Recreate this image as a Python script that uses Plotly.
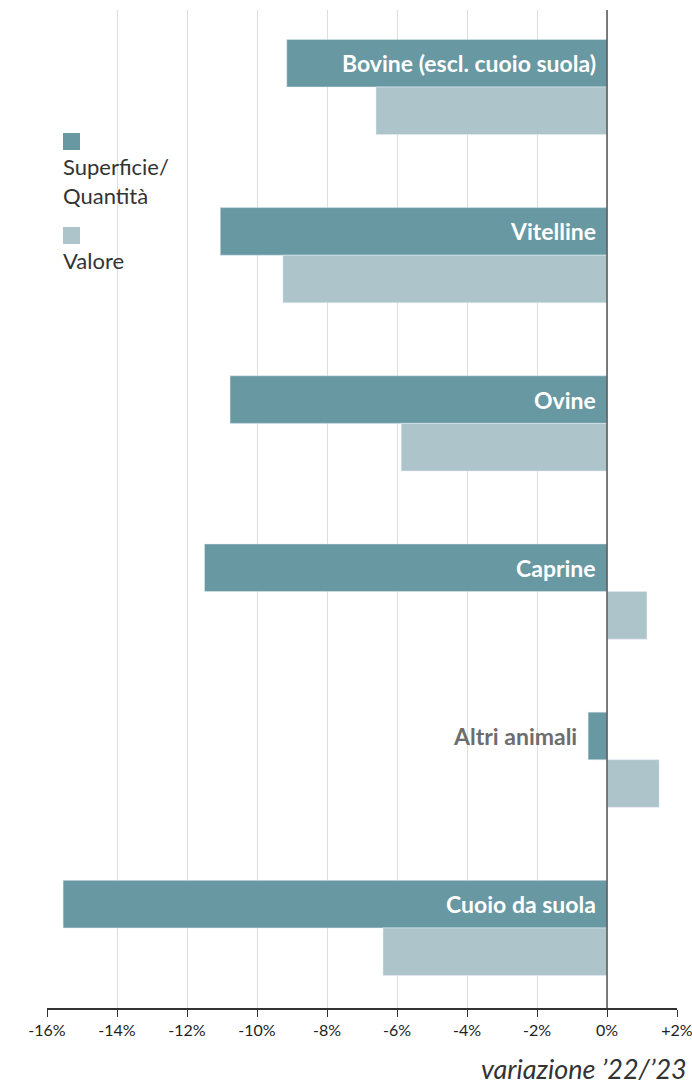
import plotly.graph_objects as go

categories = ["Bovine (escl. cuoio suola)", "Vitelline", "Ovine", "Caprine", "Altri animali", "Cuoio da suola"]
superficie = [-9.15, -11.05, -10.77, -11.5, -0.54, -15.54]
valore = [-6.6, -9.26, -5.88, 1.14, 1.49, -6.4]
tick_vals = [-16, -14, -12, -10, -8, -6, -4, -2, 0, 2]
tick_text = ["-16%", "-14%", "-12%", "-10%", "-8%", "-6%", "-4%", "-2%", "0%", "+2%"]

DARK = "#6898a2"
LIGHT = "#adc4ca"
FONT = "Lato"

pos = list(range(len(categories)))
fig = go.Figure()
fig.add_trace(go.Bar(y=pos, x=superficie, orientation="h", marker_color=DARK,
                     width=0.283, offset=-0.283, name="Superficie/Quantità",
                     hoverinfo="x"))
fig.add_trace(go.Bar(y=pos, x=valore, orientation="h", marker_color=LIGHT,
                     width=0.283, offset=0, name="Valore", hoverinfo="x"))

annotations = []
for i, (c, v) in enumerate(zip(categories, superficie)):
    inside = v < -3
    annotations.append(dict(
        x=0 if inside else min(v, 0), y=i - 0.1415, xref="x", yref="y",
        text="<b>" + c + "</b>", showarrow=False, xanchor="right", yanchor="middle",
        xshift=-9, font=dict(family=FONT, size=23, color="white" if inside else "#6d6d6d")))

# legend
fig.add_shape(type="rect", xref="paper", yref="paper", x0=0.0254, x1=0.0524,
              y0=(1008 - 150) / 998, y1=(1008 - 133) / 998, fillcolor=DARK, line_width=0)
fig.add_shape(type="rect", xref="paper", yref="paper", x0=0.0254, x1=0.0524,
              y0=(1008 - 244) / 998, y1=(1008 - 227) / 998, fillcolor=LIGHT, line_width=0)
annotations.append(dict(x=0.0254, y=(1008 - 151) / 998, xref="paper", yref="paper",
                        text="Superficie/<br>Quantità", showarrow=False, xanchor="left",
                        yanchor="top", align="left", xshift=-2,
                        font=dict(family=FONT, size=22, color="#333333")))
annotations.append(dict(x=0.0254, y=(1008 - 245) / 998, xref="paper", yref="paper",
                        text="Valore", showarrow=False, xanchor="left",
                        yanchor="top", align="left", xshift=-2,
                        font=dict(family=FONT, size=22, color="#333333")))
annotations.append(dict(x=(689 - 47) / 630, y=(1008 - 1087) / 998, xref="paper", yref="paper",
                        text="<i>variazione ’22/’23</i>", showarrow=False, xanchor="right",
                        yanchor="bottom", font=dict(family=FONT, size=27, color="#333333")))

fig.add_shape(type="line", xref="x", yref="paper", x0=0, x1=0, y0=0, y1=1,
              line=dict(color="#555555", width=1.5), layer="above")

fig.update_layout(
    width=692, height=1086, margin=dict(l=47, r=15, t=10, b=78, autoexpand=False),
    plot_bgcolor="white", paper_bgcolor="white", showlegend=False,
    annotations=annotations,
    xaxis=dict(range=[-16, 2], tickvals=tick_vals, ticktext=tick_text,
               showgrid=True, gridcolor="#dddddd", gridwidth=1, zeroline=False,
               showline=True, linecolor="#333333", linewidth=1.5,
               ticks="outside", ticklen=7, tickcolor="#333333",
               ticklabeloverflow="allow", automargin=False,
               tickfont=dict(family=FONT, size=16, color="#222222")),
    yaxis=dict(range=[5.476, -0.458], showticklabels=False, showgrid=False,
               zeroline=False, showline=False),
)
fig.write_html("out.html", config={"displayModeBar": False},
               post_script="document.body.style.margin='0';document.body.style.overflow='hidden';")
